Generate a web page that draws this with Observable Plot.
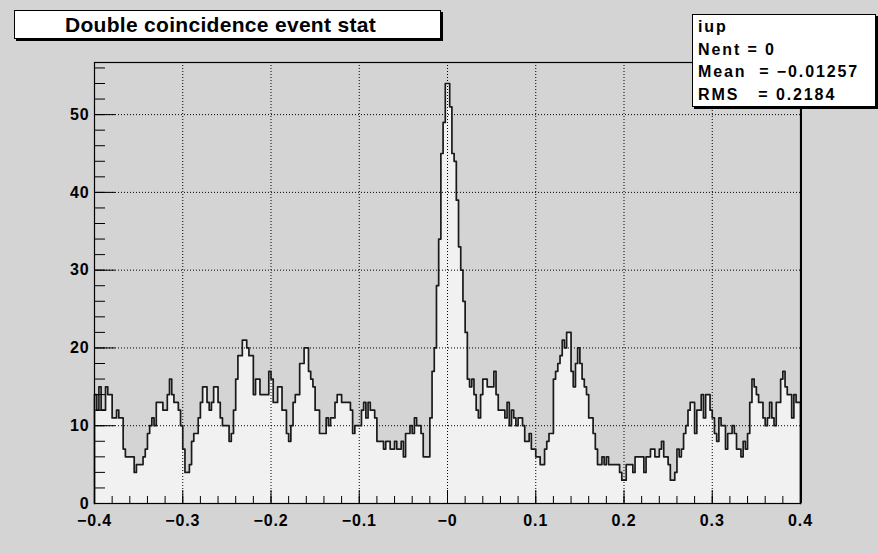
<!DOCTYPE html>
<html>
<head>
<meta charset="utf-8">
<script src="https://cdn.jsdelivr.net/npm/d3@7"></script>
<script src="https://cdn.jsdelivr.net/npm/@observablehq/plot@0.6"></script>
<style>
  html, body { margin: 0; padding: 0; background: #d4d4d4; }
  #wrap { position: relative; width: 878px; height: 553px; overflow: hidden;
          font-family: "Liberation Sans", Arial, sans-serif; }
  #chart { position: absolute; left: 0; top: 0; }
  .box { position: absolute; box-sizing: border-box; background: #fff;
         border: 1px solid #000; box-shadow: 2px 2px 0 #000; color: #000; }
  #title { left: 14px; top: 10px; width: 427px; height: 29px;
           font-weight: bold; font-size: 21px; letter-spacing: 0.3px;
           text-align: center; line-height: 28px; padding-right: 14px; }
  #stats { left: 692px; top: 14px; width: 184px; height: 93px;
           padding: 1px 0 0 5px; font-weight: bold; font-size: 16px;
           letter-spacing: 1.9px; white-space: pre; }
  #stats div { height: 22.5px; line-height: 22.5px; }
</style>
</head>
<body>
<div id="wrap">
  <div id="chart"></div>
  <div id="title" class="box"></div>
  <div id="stats" class="box"></div>
</div>
<script>
// ---- data ----
const titleText = "Double coincidence event stat";
const statsLines = ["iup", "Nent = 0", "Mean  = \u22120.01257", "RMS   = 0.2184"];

const xLow = -0.4, xHigh = 0.4;
const counts = [
  14,12,15,12,12,15,14,14,11,11,
  12,11,11,7,6,6,6,6,4,5,
  5,5,6,7,9,10,11,10,13,13,
  13,12,12,14,16,14,13,13,12,10,
  7,4,4,5,8,9,9,11,13,15,
  15,13,12,13,15,15,13,11,10,10,
  10,8,9,12,16,19,19,21,21,20,
  19,19,14,16,16,14,14,14,14,17,
  16,13,13,15,15,12,12,9,8,10,
  13,14,14,18,18,20,20,17,16,15,
  12,12,9,9,9,11,10,11,11,13,
  14,14,13,13,13,13,12,9,10,10,
  10,12,13,11,13,12,12,11,8,8,
  8,7,8,8,7,7,8,7,7,8,
  6,9,9,10,9,11,10,10,9,6,
  6,6,11,17,20,28,34,45,49,54,
  54,51,45,44,39,33,30,26,22,16,
  15,16,14,12,11,14,16,16,15,15,
  15,17,14,12,12,12,11,13,10,12,
  11,10,11,11,10,8,8,9,7,7,
  6,6,5,5,7,8,9,9,16,17,
  18,19,21,20,22,22,17,15,18,20,
  18,16,15,14,11,11,9,7,5,5,
  6,5,6,5,5,5,5,5,4,3,
  3,5,5,5,4,6,6,6,6,4,
  6,6,7,7,6,6,7,8,6,6,
  5,3,3,4,7,6,7,9,10,12,
  13,13,9,12,12,14,11,14,14,12,
  11,9,8,11,10,10,7,9,9,10,
  9,7,7,6,8,7,9,13,16,15,
  14,13,13,11,10,11,13,11,10,13,
  13,16,17,15,14,14,11,14,13,13
];

const xMajor = [-0.4, -0.3, -0.2, -0.1, 0, 0.1, 0.2, 0.3, 0.4];
const xLabels = ["\u22120.4", "\u22120.3", "\u22120.2", "\u22120.1", "\u22120", "0.1", "0.2", "0.3", "0.4"];
const xGridVals = [-0.3, -0.2, -0.1, 0, 0.1, 0.2, 0.3];
const xMinorStep = 0.02;
const yMajor = [0, 10, 20, 30, 40, 50];
const yLabels = ["0", "10", "20", "30", "40", "50"];
const yGridVals = [10, 20, 30, 40, 50];
const yMinorStep = 2;

// ---- derived tables ----
const nBins = counts.length;
const binW = (xHigh - xLow) / nBins;
const steps = counts.map((c, i) => ({x: xLow + i * binW, c}))
  .concat([{x: xHigh, c: counts[nBins - 1]}]);
const outline = [{x: xLow, c: 0}].concat(steps).concat([{x: xHigh, c: 0}]);
const yMax = 1.05 * d3.max(counts);
const xMinor = d3.range(0, Math.round((xHigh - xLow) / xMinorStep) + 1).map(i => +(xLow + i * xMinorStep).toFixed(4));
const yMinor = d3.range(0, yMax, yMinorStep);

const W = 878, H = 553, mL = 94, mR = 78, mT = 62, mB = 50;
const plotW = W - mL - mR, plotH = H - mT - mB;

const chart = Plot.plot({
  width: W, height: H,
  marginLeft: mL, marginRight: mR, marginTop: mT, marginBottom: mB,
  style: {background: "transparent", fontFamily: "Liberation Sans, Arial, sans-serif",
          fontSize: "16px", fontWeight: "bold", color: "#000", letterSpacing: "0.9px"},
  x: {domain: [xLow, xHigh], ticks: xMajor, tickSize: 0, tickPadding: 11,
      tickFormat: d => xLabels[xMajor.indexOf(d)], label: null},
  y: {domain: [0, yMax], ticks: yMajor, tickSize: 0, tickPadding: 5,
      tickFormat: d => yLabels[yMajor.indexOf(d)], label: null},
  marks: [
    Plot.areaY(steps, {x: "x", y: "c", curve: "step-after", fill: "#f1f1f1"}),
    Plot.ruleX(xGridVals, {stroke: "#000", strokeDasharray: "1,2", strokeWidth: 1}),
    Plot.ruleY(yGridVals, {stroke: "#000", strokeDasharray: "1,2", strokeWidth: 1}),
    Plot.line(outline, {x: "x", y: "c", curve: "step-after", stroke: "#1a1a1a", strokeWidth: 1.7}),
    Plot.tickY(yMajor, {y: d => d, insetRight: plotW - 21, stroke: "#000"}),
    Plot.tickY(yMinor, {y: d => d, insetRight: plotW - 11, stroke: "#000"}),
    Plot.tickX(xMajor, {x: d => d, insetTop: plotH - 13, stroke: "#000"}),
    Plot.tickX(xMinor, {x: d => d, insetTop: plotH - 7, stroke: "#000"}),
    Plot.frame({stroke: "#000", strokeWidth: 1.2}),
    Plot.ruleX([xHigh], {stroke: "#000", strokeWidth: 2, dx: 0.5})
  ]
});
document.getElementById("chart").appendChild(chart);

document.getElementById("title").textContent = titleText;
const stats = document.getElementById("stats");
statsLines.forEach(t => { const d = document.createElement("div"); d.textContent = t; stats.appendChild(d); });
</script>
</body>
</html>
